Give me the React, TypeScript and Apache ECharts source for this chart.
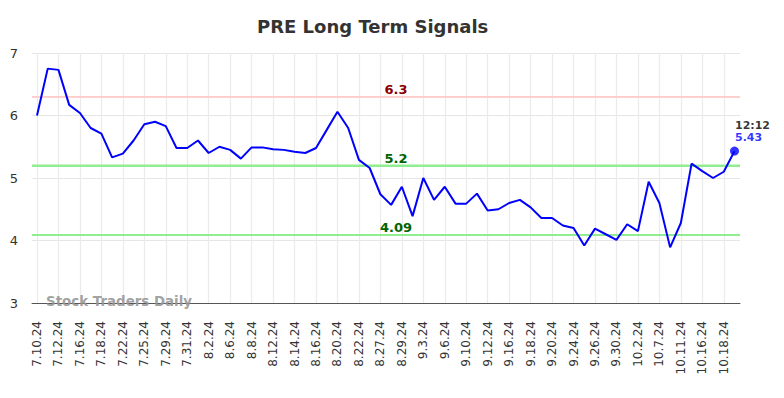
import React, { useEffect, useRef } from "react";
import * as echarts from "echarts";

const dates = [
  "7.10.24", "7.11.24", "7.12.24", "7.15.24", "7.16.24", "7.17.24", "7.18.24", "7.19.24",
  "7.22.24", "7.24.24", "7.25.24", "7.26.24", "7.29.24", "7.30.24", "7.31.24", "8.1.24",
  "8.2.24", "8.5.24", "8.6.24", "8.7.24", "8.8.24", "8.9.24", "8.12.24", "8.13.24",
  "8.14.24", "8.15.24", "8.16.24", "8.19.24", "8.20.24", "8.21.24", "8.22.24", "8.23.24",
  "8.27.24", "8.28.24", "8.29.24", "8.30.24", "9.3.24", "9.4.24", "9.6.24", "9.9.24",
  "9.10.24", "9.11.24", "9.12.24", "9.13.24", "9.16.24", "9.17.24", "9.18.24", "9.19.24",
  "9.20.24", "9.23.24", "9.24.24", "9.25.24", "9.26.24", "9.27.24", "9.30.24", "10.1.24",
  "10.2.24", "10.3.24", "10.7.24", "10.8.24", "10.11.24", "10.14.24", "10.16.24", "10.17.24",
  "10.18.24", "10.21.24",
];

const prices = [
  6.0, 6.75, 6.73, 6.17, 6.04, 5.8, 5.71, 5.33, 5.39, 5.6, 5.86, 5.9, 5.83, 5.48, 5.48, 5.6,
  5.4, 5.5, 5.45, 5.31, 5.49, 5.49, 5.46, 5.45, 5.42, 5.4, 5.48, 5.77, 6.06, 5.8, 5.29, 5.16,
  4.74, 4.57, 4.86, 4.39, 5.0, 4.65, 4.86, 4.59, 4.59, 4.75, 4.48, 4.5, 4.6, 4.65, 4.53, 4.36,
  4.36, 4.24, 4.2, 3.92, 4.19, 4.1, 4.01, 4.26, 4.15, 4.94, 4.6, 3.89, 4.28, 5.23, 5.11, 5.0,
  5.1, 5.43,
];

const signalLevels = [6.3, 5.2, 4.09];
const yTicks = [3, 4, 5, 6, 7];
const lastTime = "12:12";
const titleText = "PRE Long Term Signals";
const watermark = "Stock Traders Daily";

const FONT = "DejaVu Sans";

export default function App() {
  const ref = useRef<HTMLDivElement>(null);

  useEffect(() => {
    if (!ref.current) return;
    const chart = echarts.init(ref.current, undefined, { renderer: "svg" });
    const lastIdx = prices.length - 1;
    const levelStyles = [
      { line: "#ffcccc", width: 1.5, text: "#8b0000" },
      { line: "#90ee90", width: 2, text: "#006400" },
      { line: "#90ee90", width: 2, text: "#006400" },
    ];
    const yMin = yTicks[0];
    const yMax = yTicks[yTicks.length - 1];

    const levelSeries = signalLevels.map((lv, i) => ({
      type: "line",
      xAxisIndex: 1,
      yAxisIndex: 1,
      data: [
        [0, lv],
        [1, lv],
      ],
      symbol: "none",
      silent: true,
      z: 1,
      lineStyle: { color: levelStyles[i].line, width: levelStyles[i].width },
      markLine: {
        silent: true,
        symbol: "none",
        lineStyle: { color: levelStyles[i].line, width: levelStyles[i].width, type: "solid" },
        data: [{ yAxis: lv }],
        label: {
          show: true,
          position: "middle",
          distance: 1,
          offset: [10, 0],
          formatter: String(lv),
          color: levelStyles[i].text,
          fontFamily: FONT,
          fontWeight: "bold",
          fontSize: 13,
        },
      },
    }));

    chart.setOption({
      animation: false,
      backgroundColor: "#ffffff",
      title: {
        text: titleText,
        left: 257,
        top: 17,
        padding: 0,
        textStyle: { fontFamily: FONT, fontSize: 18, fontWeight: "bold", color: "#333333" },
      },
      graphic: [
        {
          type: "text",
          left: 46,
          top: 295,
          z: 10,
          style: {
            text: watermark,
            fill: "rgba(150,150,150,0.9)",
            font: `bold 13.4px "${FONT}"`,
          },
        },
      ],
      grid: [
        { left: 37, right: 49.5, top: 53, bottom: 95 },
        { left: 32, right: 44, top: 53, bottom: 95 },
      ],
      xAxis: [
        {
          type: "category",
          gridIndex: 0,
          data: dates,
          boundaryGap: false,
          axisLine: { show: false },
          axisTick: { show: false },
          axisLabel: {
            interval: 1,
            rotate: 90,
            margin: 18,
            fontFamily: FONT,
            fontSize: 12,
            color: "#333333",
          },
          splitLine: { show: true, interval: 1, lineStyle: { color: "#ebebeb", width: 1.2 } },
        },
        {
          type: "value",
          gridIndex: 1,
          min: 0,
          max: 1,
          axisLine: { show: true, onZero: false, lineStyle: { color: "#555555", width: 1 } },
          axisTick: { show: false },
          axisLabel: { show: false },
          splitLine: { show: false },
        },
      ],
      yAxis: [
        {
          type: "value",
          gridIndex: 0,
          min: yMin,
          max: yMax,
          interval: 1,
          axisLine: { show: false },
          axisTick: { show: false },
          axisLabel: { show: false },
          splitLine: { show: false },
        },
        {
          type: "value",
          gridIndex: 1,
          min: yMin,
          max: yMax,
          interval: 1,
          axisLine: { show: false },
          axisTick: { show: false },
          axisLabel: { margin: 14, fontFamily: FONT, fontSize: 13, color: "#333333" },
          splitLine: { show: true, lineStyle: { color: "#e6e6e6", width: 1.2 } },
        },
      ],
      series: [
        ...levelSeries,
        {
          type: "line",
          xAxisIndex: 0,
          yAxisIndex: 0,
          data: prices,
          symbol: "none",
          z: 5,
          lineStyle: { color: "#0000ff", width: 2 },
        },
        {
          type: "scatter",
          xAxisIndex: 0,
          yAxisIndex: 0,
          data: [[lastIdx, prices[lastIdx]]],
          symbol: "circle",
          symbolSize: 9,
          z: 6,
          itemStyle: { color: "#0000ff" },
          label: {
            show: true,
            position: [5, -27],
            align: "left",
            verticalAlign: "top",
            formatter: () => `{t|${lastTime}}\n{v|${prices[lastIdx].toFixed(2)}}`,
            rich: {
              t: { fontFamily: FONT, fontSize: 11, fontWeight: "bold", color: "#000000", lineHeight: 12 },
              v: { fontFamily: FONT, fontSize: 11, fontWeight: "bold", color: "#0000ff", lineHeight: 12 },
            },
          },
        },
      ],
    });

    return () => chart.dispose();
  }, []);

  return (
    <div
      ref={ref}
      style={{ position: "fixed", left: 0, top: 0, width: 784, height: 398, background: "#fff" }}
    />
  );
}
